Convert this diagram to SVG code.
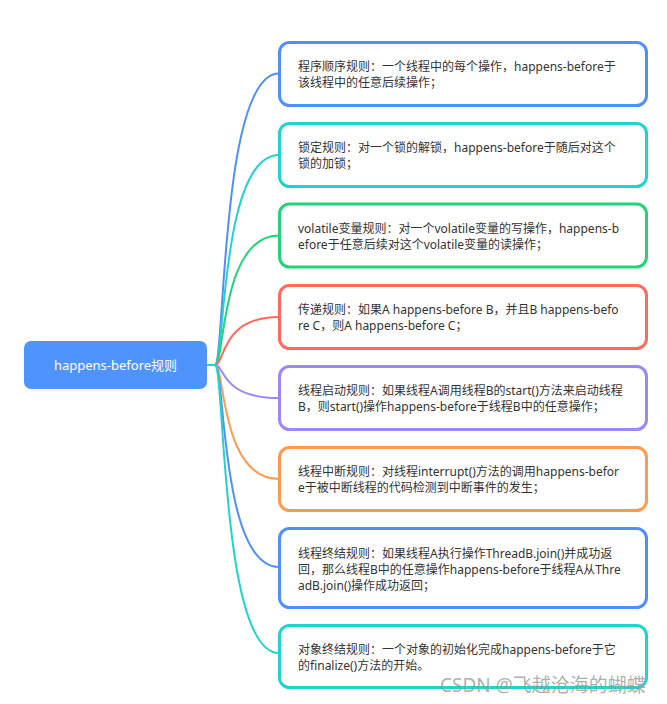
<svg xmlns="http://www.w3.org/2000/svg" width="667" height="704" viewBox="0 0 667 704">
<style>
.box{fill:#fff;stroke-width:3}
.t{font-family:"Noto Sans","Noto Sans CJK SC",sans-serif;font-size:12px;fill:#333}
.c{fill:none;stroke-width:2}
.blue{stroke:#4F8FFA}.teal{stroke:#1FD3CF}.green{stroke:#22D377}.red{stroke:#FF6A5C}.purple{stroke:#9C87F5}.orange{stroke:#FF9A4F}
</style>
<rect width="667" height="704" fill="#fff"/>
<g id="connectors">
<path class="c blue" d="M215,365 C225,365 220,73.5 279,73.5"/>
<path class="c teal" d="M215,365 C225,365 220,155 279,155"/>
<path class="c green" d="M215,365 C225,365 220,235.5 279,235.5"/>
<path class="c red" d="M215,365 C225,365 220,317 279,317"/>
<path class="c purple" d="M215,365 C225,365 220,398 279,398"/>
<path class="c orange" d="M215,365 C225,365 220,479 279,479"/>
<path class="c blue" d="M215,365 C225,365 220,567 279,567"/>
<path class="c teal" d="M215,365 C225,365 220,653 279,653"/>
<path class="c teal" d="M206,365 H216"/>
</g>
<g id="root">
<rect x="24" y="341" width="183" height="48" rx="7" fill="#4E94FC"/>
<text x="115.5" y="369.5" text-anchor="middle" font-family="Noto Sans,Noto Sans CJK SC,sans-serif" font-size="13" fill="#fff">happens-before规则</text>
</g>
<g id="n1">
<rect class="box blue" x="279.5" y="42.5" width="367" height="63" rx="10"/>
<text class="t" x="298" y="71">程序顺序规则：一个线程中的每个操作，happens-before于</text>
<text class="t" x="298" y="87">该线程中的任意后续操作；</text>
</g>
<g id="n2">
<rect class="box teal" x="279.5" y="123.5" width="367" height="63" rx="10"/>
<text class="t" x="298" y="151.5">锁定规则：对一个锁的解锁，happens-before于随后对这个</text>
<text class="t" x="298" y="167.5">锁的加锁；</text>
</g>
<g id="n3">
<rect class="box green" x="279.5" y="204" width="367" height="63" rx="10"/>
<text class="t" x="298" y="232.5">volatile变量规则：对一个volatile变量的写操作，happens-b</text>
<text class="t" x="298" y="248.5">efore于任意后续对这个volatile变量的读操作；</text>
</g>
<g id="n4">
<rect class="box red" x="279.5" y="285.5" width="367" height="63" rx="10"/>
<text class="t" x="298" y="314">传递规则：如果A happens-before B，并且B happens-befo</text>
<text class="t" x="298" y="330">re C，则A happens-before C；</text>
</g>
<g id="n5">
<rect class="box purple" x="279.5" y="366.5" width="367" height="63" rx="10"/>
<text class="t" x="298" y="395">线程启动规则：如果线程A调用线程B的start()方法来启动线程</text>
<text class="t" x="298" y="411">B，则start()操作happens-before于线程B中的任意操作；</text>
</g>
<g id="n6">
<rect class="box orange" x="279.5" y="447.5" width="367" height="63" rx="10"/>
<text class="t" x="298" y="476">线程中断规则：对线程interrupt()方法的调用happens-befor</text>
<text class="t" x="298" y="492">e于被中断线程的代码检测到中断事件的发生；</text>
</g>
<g id="n7">
<rect class="box blue" x="279.5" y="528.5" width="367" height="79" rx="10"/>
<text class="t" x="298" y="557.5">线程终结规则：如果线程A执行操作ThreadB.join()并成功返</text>
<text class="t" x="298" y="573.5">回，那么线程B中的任意操作happens-before于线程A从Thre</text>
<text class="t" x="298" y="589.5">adB.join()操作成功返回；</text>
</g>
<g id="n8">
<rect class="box teal" x="279.5" y="625.5" width="367" height="62" rx="10"/>
<text class="t" x="298" y="653.5">对象终结规则：一个对象的初始化完成happens-before于它</text>
<text class="t" x="298" y="669.5">的finalize()方法的开始。</text>
</g>
<text x="440" y="692" font-family="Noto Sans,Noto Sans CJK SC,sans-serif" font-size="19" fill="#999" fill-opacity="0.8">CSDN @飞越沧海的蝴蝶</text>
</svg>
